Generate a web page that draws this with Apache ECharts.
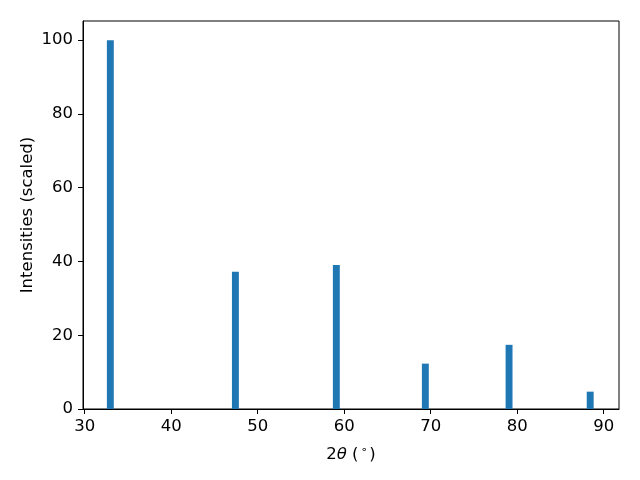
<!DOCTYPE html>
<html>
<head>
<meta charset="utf-8">
<script src="https://cdn.jsdelivr.net/npm/echarts@6/dist/echarts.min.js"></script>
<style>html,body{margin:0;padding:0;background:#fff;}#c{width:640px;height:480px;}</style>
</head>
<body>
<div id="c"></div>
<script>
const angles = [32.96, 47.42, 59.09, 69.38, 79.06, 88.44];
const intensities = [100, 37.2, 39.05, 12.3, 17.4, 4.7];
const xTicks = [30, 40, 50, 60, 70, 80, 90];
const yTicks = [0, 20, 40, 60, 80, 100];
const barWidth = 0.8;

const chart = echarts.init(document.getElementById('c'), null, {renderer: 'canvas'});
const font = 'DejaVu Sans';
chart.setOption({
  animation: false,
  grid: {left: 83, right: 21, top: 21, bottom: 71, show: true, borderColor: '#000', borderWidth: 1, backgroundColor: 'transparent'},
  xAxis: {
    type: 'value', min: 29.8, max: 91.77,
    splitLine: {show: false},
    axisLine: {show: true, onZero: false, lineStyle: {color: '#000', width: 1}},
    axisTick: {show: true, length: 5, lineStyle: {color: '#000'}, customValues: xTicks},
    axisLabel: {customValues: xTicks, color: '#000', fontFamily: font, fontSize: 16.5, margin: 9},
    name: '{a|2}{i|θ}{a| (}{s|∘}{a|)}',
    nameLocation: 'middle', nameGap: 36, nameMoveOverlap: false,
    nameTextStyle: {
      rich: {
        a: {fontFamily: font, fontSize: 16.5, color: '#000'},
        i: {fontFamily: font, fontSize: 16.5, fontStyle: 'italic', color: '#000'},
        s: {fontFamily: font, fontSize: 11, color: '#000', verticalAlign: 'top', padding: [0, 2, 8, 2]}
      }
    }
  },
  yAxis: {
    type: 'value', min: 0, max: 105.2,
    splitLine: {show: false},
    axisLine: {show: true, lineStyle: {color: '#000', width: 1}},
    axisTick: {show: true, length: 5, lineStyle: {color: '#000'}, customValues: yTicks},
    axisLabel: {customValues: yTicks, color: '#000', fontFamily: font, fontSize: 16.5, margin: 10},
    name: 'Intensities (scaled)',
    nameLocation: 'middle', nameGap: 47, nameMoveOverlap: false,
    nameTextStyle: {fontFamily: font, fontSize: 16.5, color: '#000'}
  },
  series: [{
    type: 'custom',
    data: angles.map((a, i) => [a, intensities[i]]),
    renderItem: function (params, api) {
      const x = api.value(0), y = api.value(1);
      const p0 = api.coord([x - barWidth / 2, 0]);
      const p1 = api.coord([x + barWidth / 2, y]);
      return {
        type: 'rect',
        shape: {x: p0[0], y: p1[1], width: p1[0] - p0[0], height: p0[1] - p1[1]},
        style: {fill: '#1f77b4'}
      };
    }
  }]
});
</script>
</body>
</html>
